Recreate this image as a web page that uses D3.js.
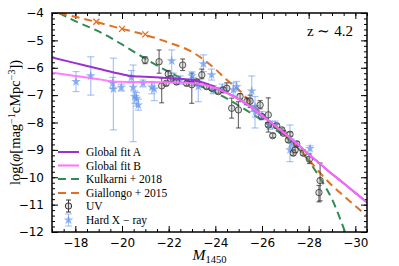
<!DOCTYPE html>
<html>
<head>
<meta charset="utf-8">
<script src="https://cdn.jsdelivr.net/npm/d3@7"></script>
<style>
  body { margin: 0; background: #fff; }
  svg { display: block; }
</style>
</head>
<body>
<div id="chart"></div>
<script>
// curves, [M1450, log phi]
var fitA = [[-17, -5.62], [-18, -5.83], [-19, -6.04], [-20, -6.24], [-20.3, -6.29], [-21, -6.33], [-22, -6.38],
  [-23, -6.45], [-23.5, -6.55], [-24, -6.72], [-24.5, -6.92], [-25, -7.15], [-25.5, -7.42], [-26, -7.74],
  [-26.5, -8.08], [-27, -8.42], [-27.5, -8.78], [-28, -9.16], [-28.5, -9.52], [-29, -9.88], [-29.5, -10.22],
  [-30, -10.57], [-30.5, -10.92]];
var fitB = [[-17, -6.18], [-18, -6.3], [-19, -6.42], [-19.8, -6.51], [-21, -6.52], [-22, -6.53], [-23, -6.57],
  [-23.5, -6.62], [-24, -6.74], [-24.5, -6.93], [-25, -7.15], [-25.5, -7.42], [-26, -7.74], [-26.5, -8.08],
  [-27, -8.42], [-27.5, -8.78], [-28, -9.16], [-28.5, -9.52], [-29, -9.88], [-29.5, -10.22], [-30, -10.57],
  [-30.5, -10.92]];
var kulkarni = [[-17.3, -4.0], [-18, -4.3], [-19, -4.67], [-20, -5.15], [-21, -5.67], [-22, -6.15], [-23, -6.55],
  [-24, -6.9], [-25, -7.38], [-26, -7.92], [-26.5, -8.22], [-27, -8.52], [-27.5, -8.9], [-28, -9.4],
  [-28.5, -10.05], [-29, -10.8], [-29.56, -12]];
var giallongo = [[-17.3, -4.0], [-18, -4.14], [-19, -4.35], [-20, -4.58], [-21, -4.8], [-22, -5.08], [-23, -5.42],
  [-24, -6.05], [-24.5, -6.45], [-25, -6.8], [-25.5, -7.25], [-26, -7.7], [-26.5, -8.1], [-27, -8.48],
  [-27.5, -8.88], [-28, -9.35], [-28.5, -9.85], [-29, -10.3], [-29.5, -10.68], [-30, -11.05], [-30.5, -11.43]];
// Giallongo+2015 data (crosses)
var giallongoPts = [[-18.9, -4.32], [-20, -4.58], [-21, -4.78]];

// points: [M1450, log phi, lower, upper]
var uv = [[-20.99, -5.72, -5.85, -5.6], [-21.59, -5.78, -6.2, -5.35], [-21.7, -6.66, -7.28, -6.37],
  [-21.89, -6.57, -6.65, -6.5], [-21.98, -6.23, -6.35, -6.1], [-22.08, -6.4, -6.5, -6.3],
  [-22.34, -6.52, -6.6, -6.45], [-22.6, -5.9, -6.1, -5.68], [-22.77, -6.57, -6.65, -6.5],
  [-22.99, -6.62, -7.3, -6.2], [-23.2, -6.51, -6.6, -6.43], [-23.42, -6.26, -6.4, -6.05],
  [-23.63, -6.69, -6.77, -6.6], [-23.85, -6.75, -6.83, -6.67], [-24.13, -6.87, -6.95, -6.8],
  [-24.34, -6.81, -6.9, -6.72], [-24.49, -6.75, -6.85, -6.55], [-24.7, -7.48, -7.84, -7.11],
  [-24.99, -7.54, -8.2, -7.24], [-25.06, -7.05, -7.15, -6.95], [-25.35, -7.24, -7.35, -7.1],
  [-25.49, -7.22, -7.45, -7.0], [-25.92, -7.36, -7.5, -7.2], [-25.99, -7.78, -7.85, -7.7],
  [-26.27, -7.72, -8.35, -7.1], [-26.27, -8.09, -8.15, -8.0], [-26.46, -8.48, -8.55, -8.4],
  [-26.63, -8.12, -8.2, -8.05], [-26.85, -8.27, -8.35, -8.2], [-26.91, -8.39, -8.45, -8.3],
  [-27.13, -8.64, -8.72, -8.56], [-27.2, -8.43, -8.5, -8.35], [-27.34, -9.12, -9.2, -9.0],
  [-27.42, -9.0, -9.1, -8.9], [-27.49, -8.78, -8.85, -8.7], [-27.77, -9.12, -9.2, -9.0],
  [-28.03, -9.34, -9.5, -9.15], [-28.49, -10.12, -10.86, -9.48], [-28.44, -10.56, -10.9, -10.3]];
var xray = [[-18.03, -6.51, -6.87, -6.14], [-18.66, -6.3, -7.0, -5.6], [-19.6, -6.57, -6.75, -6.35],
  [-19.63, -6.78, -8.27, -5.65], [-19.97, -6.72, -6.85, -6.6], [-20.4, -6.35, -6.55, -6.1],
  [-20.48, -6.72, -8.7, -5.9], [-20.55, -7.05, -7.3, -6.85], [-20.62, -7.12, -7.4, -6.9],
  [-20.7, -7.36, -7.55, -7.15], [-20.9, -6.57, -6.7, -6.45], [-21.28, -6.71, -6.95, -6.5],
  [-21.38, -6.78, -7.2, -6.55], [-22.13, -5.75, -6.2, -5.35], [-22.2, -6.38, -6.55, -6.2],
  [-22.5, -6.45, -6.6, -6.3], [-23.0, -6.3, -6.45, -6.15], [-23.06, -6.51, -6.65, -6.35],
  [-23.27, -6.69, -7.24, -6.45], [-23.49, -5.86, -6.14, -5.53], [-23.84, -6.26, -6.45, -6.05],
  [-23.91, -6.81, -6.95, -6.65], [-24.3, -6.75, -6.9, -6.6], [-24.77, -6.81, -7.0, -6.55],
  [-24.91, -6.69, -6.85, -6.5], [-25.56, -6.85, -7.6, -6.3], [-25.7, -7.42, -8.2, -7.05],
  [-25.72, -7.6, -7.8, -7.4], [-26.0, -7.75, -7.9, -7.6], [-26.34, -8.09, -8.25, -7.95],
  [-26.56, -8.09, -8.2, -7.95], [-27.2, -9.0, -9.43, -8.09], [-27.27, -8.76, -8.9, -8.6],
  [-28.06, -8.95, -9.29, -8.85]];

var xTicks = [-18, -20, -22, -24, -26, -28, -30];
var yTicks = [-4, -5, -6, -7, -8, -9, -10, -11, -12];

var W = 399, H = 266;
var margin = {top: 13, right: 32, bottom: 34, left: 52};
var width = W - margin.left - margin.right;
var height = H - margin.top - margin.bottom;

var x = d3.scaleLinear().domain([-17, -30.5]).range([0, width]);
var y = d3.scaleLinear().domain([-12, -4]).range([height, 0]);

var svg = d3.select("#chart").append("svg")
  .attr("width", W).attr("height", H)
  .append("g")
  .attr("transform", "translate(" + margin.left + "," + margin.top + ")");

svg.append("clipPath").attr("id", "clip")
  .append("rect").attr("width", width).attr("height", height);

var fmt = function (d) { return String(d).replace("-", "\u2212"); };
var minorX = d3.range(-17, -30.51, -0.5);
var minorY = d3.range(-12, -3.99, 0.2);

// axes with inward ticks on all sides
function ticks(g, axis) { g.call(axis); g.select(".domain").remove(); }
svg.append("g").attr("transform", "translate(0," + height + ")")
  .call(ticks, d3.axisBottom(x).tickValues(minorX).tickSize(-3).tickFormat(""));
svg.append("g").attr("transform", "translate(0," + height + ")")
  .call(ticks, d3.axisBottom(x).tickValues(xTicks).tickSize(-6).tickPadding(6).tickFormat(fmt));
svg.append("g").call(ticks, d3.axisTop(x).tickValues(minorX).tickSize(-3).tickFormat(""));
svg.append("g").call(ticks, d3.axisTop(x).tickValues(xTicks).tickSize(-6).tickFormat(""));
svg.append("g").call(ticks, d3.axisLeft(y).tickValues(minorY).tickSize(-3).tickFormat(""));
svg.append("g").call(ticks, d3.axisLeft(y).tickValues(yTicks).tickSize(-6).tickPadding(8).tickFormat(fmt));
svg.append("g").attr("transform", "translate(" + width + ",0)")
  .call(ticks, d3.axisRight(y).tickValues(minorY).tickSize(-3).tickFormat(""));
svg.append("g").attr("transform", "translate(" + width + ",0)")
  .call(ticks, d3.axisRight(y).tickValues(yTicks).tickSize(-6).tickFormat(""));

svg.selectAll(".tick line").attr("stroke", "#000").attr("stroke-width", 1);
svg.selectAll(".tick text").attr("font-family", "DejaVu Sans").attr("font-size", 12).attr("fill", "#000");

var plot = svg.append("g").attr("clip-path", "url(#clip)");

var line = d3.line().x(function (d) { return x(d[0]); }).y(function (d) { return y(d[1]); })
  .curve(d3.curveMonotoneX);

var cA = "#9b30d0", cB = "#ff70ff", cK = "#2e8b57", cG = "#e07020";
var blue = "#6495ed";
var serif = "Liberation Serif, Times New Roman, serif";

plot.append("path").datum(kulkarni).attr("d", line).attr("fill", "none")
  .attr("stroke", cK).attr("stroke-width", 2).attr("stroke-dasharray", "8,5");
plot.append("path").datum(giallongo).attr("d", line).attr("fill", "none")
  .attr("stroke", cG).attr("stroke-width", 2).attr("stroke-dasharray", "8,5");

// Giallongo data crosses
plot.selectAll(".gx").data(giallongoPts).enter().append("path")
  .attr("transform", function (d) { return "translate(" + x(d[0]) + "," + y(d[1]) + ")"; })
  .attr("d", "M-3,-3L3,3M-3,3L3,-3").attr("stroke", cG).attr("stroke-width", 1.3);

// error bars
function errbars(data, color, op, w) {
  var g = plot.append("g").attr("stroke", color).attr("stroke-opacity", op).attr("stroke-width", 1.2);
  data.forEach(function (d) {
    var px = x(d[0]);
    g.append("line").attr("x1", px).attr("x2", px).attr("y1", y(d[2])).attr("y2", y(d[3]));
    g.append("line").attr("x1", px - w).attr("x2", px + w).attr("y1", y(d[2])).attr("y2", y(d[2]));
    g.append("line").attr("x1", px - w).attr("x2", px + w).attr("y1", y(d[3])).attr("y2", y(d[3]));
  });
}
errbars(xray, blue, 0.55, 3.5);
errbars(uv, "#333", 0.7, 2.5);

var star = d3.symbol().type(d3.symbolStar).size(30);
plot.selectAll(".xr").data(xray).enter().append("path")
  .attr("transform", function (d) { return "translate(" + x(d[0]) + "," + y(d[1]) + ")"; })
  .attr("d", star).attr("fill", blue).attr("fill-opacity", 0.7);

plot.selectAll(".uv").data(uv).enter().append("circle")
  .attr("cx", function (d) { return x(d[0]); }).attr("cy", function (d) { return y(d[1]); })
  .attr("r", 3.2).attr("fill", "#999").attr("fill-opacity", 0.3)
  .attr("stroke", "#333").attr("stroke-opacity", 0.8).attr("stroke-width", 1);

plot.append("path").datum(fitA).attr("d", line).attr("fill", "none")
  .attr("stroke", cA).attr("stroke-width", 2);
plot.append("path").datum(fitB).attr("d", line).attr("fill", "none")
  .attr("stroke", cB).attr("stroke-width", 2).attr("stroke-opacity", 0.9);

// frame
svg.append("rect").attr("width", width).attr("height", height)
  .attr("fill", "none").attr("stroke", "#000").attr("stroke-width", 1.5);

// labels
svg.append("text").attr("x", width - 14).attr("y", 23).attr("text-anchor", "end")
  .attr("font-family", serif).attr("font-size", 15).text("z \u223C 4.2");

var xl = svg.append("text").attr("x", width / 2).attr("y", height + 28).attr("text-anchor", "middle")
  .attr("font-family", serif).attr("font-size", 15.5);
xl.append("tspan").attr("font-style", "italic").text("M");
xl.append("tspan").attr("font-size", 10.5).attr("dy", 3).text("1450");

var yl = svg.append("text").attr("transform", "translate(-32," + (height / 2) + ") rotate(-90)")
  .attr("text-anchor", "middle").attr("font-family", serif).attr("font-size", 14.5);
yl.append("tspan").text("log(");
yl.append("tspan").attr("font-style", "italic").text("\u03C6");
yl.append("tspan").text("[mag");
yl.append("tspan").attr("font-size", 10).attr("dy", -5).text("\u22121");
yl.append("tspan").attr("dy", 5).text("cMpc");
yl.append("tspan").attr("font-size", 10).attr("dy", -5).text("\u22123");
yl.append("tspan").attr("dy", 5).text("])");

// legend
var legend = [
  {label: "Global fit A", type: "line", color: cA},
  {label: "Global fit B", type: "line", color: cB},
  {label: "Kulkarni + 2018", type: "dash", color: cK},
  {label: "Giallongo + 2015", type: "dash", color: cG},
  {label: "UV", type: "uv"},
  {label: "Hard X \u2212 ray", type: "xray"}
];
var legY = [139, 152.5, 166, 180, 193, 207];
var lg = svg.append("g").attr("transform", "translate(6,0)");
legend.forEach(function (d, i) {
  var g = lg.append("g").attr("transform", "translate(0," + legY[i] + ")");
  if (d.type === "line" || d.type === "dash") {
    g.append("line").attr("x1", 0).attr("x2", 21).attr("stroke", d.color).attr("stroke-width", 2)
      .attr("stroke-dasharray", d.type === "dash" ? "8,5" : null);
  } else if (d.type === "uv") {
    g.append("line").attr("x1", 10.5).attr("x2", 10.5).attr("y1", -6).attr("y2", 6).attr("stroke", "#333");
    g.append("line").attr("x1", 8).attr("x2", 13).attr("y1", -6).attr("y2", -6).attr("stroke", "#333");
    g.append("line").attr("x1", 8).attr("x2", 13).attr("y1", 6).attr("y2", 6).attr("stroke", "#333");
    g.append("circle").attr("cx", 10.5).attr("r", 3.2).attr("fill", "#999").attr("fill-opacity", 0.3)
      .attr("stroke", "#333");
  } else {
    g.append("line").attr("x1", 10.5).attr("x2", 10.5).attr("y1", -6).attr("y2", 6).attr("stroke", blue).attr("stroke-opacity", 0.6);
    g.append("line").attr("x1", 7).attr("x2", 14).attr("y1", -6).attr("y2", -6).attr("stroke", blue).attr("stroke-opacity", 0.6);
    g.append("line").attr("x1", 7).attr("x2", 14).attr("y1", 6).attr("y2", 6).attr("stroke", blue).attr("stroke-opacity", 0.6);
    g.append("path").attr("transform", "translate(10.5,0)").attr("d", star).attr("fill", blue).attr("fill-opacity", 0.7);
  }
  g.append("text").attr("x", 28).attr("y", 4).attr("font-family", serif).attr("font-size", 11.5)
    .text(d.label);
});
</script>
</body>
</html>
